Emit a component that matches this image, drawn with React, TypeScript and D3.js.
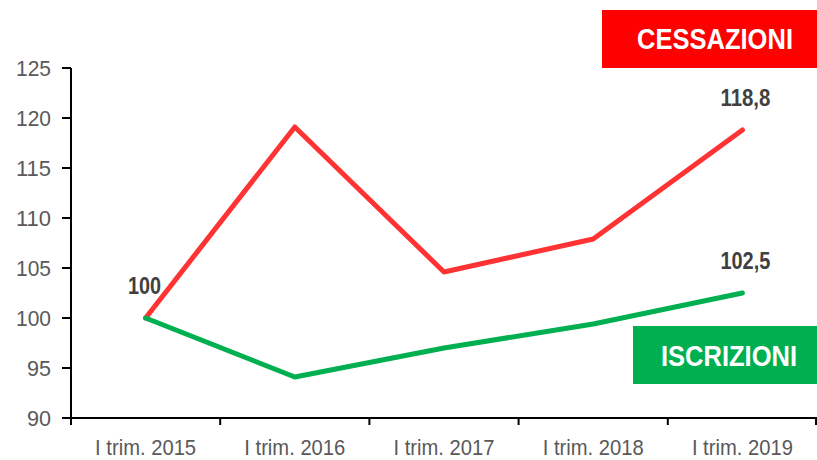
import React from "react";
import * as d3 from "d3";

const categories = ["I trim. 2015", "I trim. 2016", "I trim. 2017", "I trim. 2018", "I trim. 2019"];
const cessazioni = [100, 119.1, 104.6, 107.9, 118.8];
const iscrizioni = [100, 94.1, 97.0, 99.4, 102.5];
const yTicks = [90, 95, 100, 105, 110, 115, 120, 125];
const pointLabels = [
  { series: "cessazioni", index: 4, text: "118,8" },
  { series: "iscrizioni", index: 4, text: "102,5" },
  { series: "iscrizioni", index: 0, text: "100" },
];

const W = 817;
const H = 460;
const narrow = "'Liberation Sans Narrow', 'Arial Narrow', 'Liberation Sans', Arial, sans-serif";
const wide = "'Liberation Sans', Arial, sans-serif";

export default function App() {
  const x = d3.scaleBand<string>().domain(categories).range([71, 817]);
  const y = d3.scaleLinear().domain([90, 125]).range([418, 68]);
  const cx = (i: number) => (x(categories[i]) as number) + x.bandwidth() / 2;
  const line = d3
    .line<number>()
    .x((_, i) => cx(i))
    .y((d) => y(d));

  const labelPos = (l: { series: string; index: number; text: string }) => {
    const v = l.series === "cessazioni" ? cessazioni[l.index] : iscrizioni[l.index];
    if (l.index === 0) return { x: cx(0) - 1, y: y(v) - 24 };
    return { x: cx(l.index) + 3, y: y(v) - 24 };
  };

  return (
    <svg
      width={W}
      height={H}
      style={{ position: "absolute", left: 0, top: 0, background: "#fff" }}
    >
      {/* Legend boxes */}
      <rect x={602} y={10} width={215} height={58} fill="#FF0000" />
      <text
        x={715}
        y={49}
        textAnchor="middle"
        fill="#fff"
        fontFamily={wide}
        fontWeight="bold"
        fontSize={29}
        textLength={156}
        lengthAdjust="spacingAndGlyphs"
      >
        CESSAZIONI
      </text>
      <rect x={633} y={326} width={184} height={58} fill="#00B050" />
      <text
        x={729}
        y={366}
        textAnchor="middle"
        fill="#fff"
        fontFamily={wide}
        fontWeight="bold"
        fontSize={29}
        textLength={136}
        lengthAdjust="spacingAndGlyphs"
      >
        ISCRIZIONI
      </text>

      {/* Y axis */}
      <line x1={71} x2={71} y1={y(125)} y2={425} stroke="#000" strokeWidth={2} />
      {yTicks.map((t) => (
        <g key={t}>
          <line x1={62} x2={71} y1={y(t)} y2={y(t)} stroke="#000" strokeWidth={2} />
          <text
            x={51}
            y={y(t) + 8}
            textAnchor="end"
            fill="#595959"
            fontFamily={narrow}
            fontSize={22}
            textLength={String(t).length === 3 ? 35 : 24}
            lengthAdjust="spacingAndGlyphs"
          >
            {t}
          </text>
        </g>
      ))}

      {/* X axis */}
      <line x1={62} x2={817} y1={y(90)} y2={y(90)} stroke="#000" strokeWidth={2} />
      {[...categories.map((c) => x(c) as number), 816].map((px, i) => (
        <line key={i} x1={px} x2={px} y1={y(90)} y2={y(90) + 7} stroke="#000" strokeWidth={2} />
      ))}
      {categories.map((c, i) => (
        <text
          key={c}
          x={cx(i)}
          y={455}
          textAnchor="middle"
          fill="#595959"
          fontFamily={narrow}
          fontSize={22}
          textLength={101}
          lengthAdjust="spacingAndGlyphs"
        >
          {c}
        </text>
      ))}

      {/* Lines */}
      <path
        d={line(cessazioni) as string}
        fill="none"
        stroke="#FF3333"
        strokeWidth={5}
        strokeLinejoin="round"
        strokeLinecap="round"
      />
      <path
        d={line(iscrizioni) as string}
        fill="none"
        stroke="#00B050"
        strokeWidth={5}
        strokeLinejoin="round"
        strokeLinecap="round"
      />

      {/* Data labels */}
      {pointLabels.map((l) => {
        const p = labelPos(l);
        return (
          <text
            key={l.text}
            x={p.x}
            y={p.y}
            textAnchor="middle"
            fill="#404040"
            fontFamily={narrow}
            fontWeight="bold"
            fontSize={24}
            textLength={l.text.length === 3 ? 33 : 50}
            lengthAdjust="spacingAndGlyphs"
          >
            {l.text}
          </text>
        );
      })}
    </svg>
  );
}
